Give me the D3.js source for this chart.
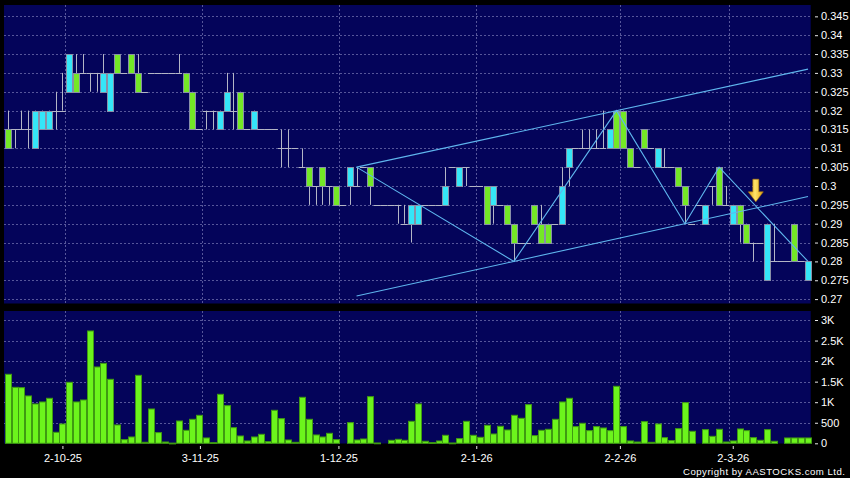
<!DOCTYPE html>
<html><head><meta charset="utf-8">
<script src="https://cdn.jsdelivr.net/npm/d3@7"></script>
<style>html,body{margin:0;padding:0;background:#000;} svg{display:block;}</style>
</head><body><svg id="c" width="850" height="478"></svg>
<script>
// ---- data (one entry per trading day, index 0..117) ----
const openP  = [0.315,0.315,0.315,0.315,0.31,0.315,0.315,0.32,0.32,0.325,
                0.33,0.33,0.33,0.33,0.325,0.32,0.335,0.33,0.335,0.33,
                0.325,0.33,0.33,0.33,0.33,0.33,0.33,0.325,0.315,0.32,
                0.32,0.315,0.32,0.32,0.325,0.315,0.315,0.315,0.315,0.315,
                0.31,0.31,0.31,0.305,0.305,0.3,0.305,0.3,0.3,0.295,
                0.3,0.3,0.305,0.305,0.295,0.295,0.295,0.295,0.29,0.29,
                0.29,0.295,0.295,0.295,0.295,0.305,0.3,0.305,0.3,0.3,
                0.3,0.295,0.295,0.295,0.29,0.285,0.285,0.295,0.29,0.29,
                0.29,0.29,0.305,0.31,0.31,0.31,0.31,0.31,0.31,0.32,
                0.32,0.31,0.305,0.315,0.31,0.305,0.305,0.305,0.305,0.3,
                0.29,0.295,0.29,0.3,0.305,0.295,0.29,0.295,0.29,0.285,
                0.285,0.275,0.28,0.28,0.28,0.29,0.28,0.275];
const highP  = [0.32,0.315,0.32,0.32,0.32,0.32,0.32,0.325,0.33,0.335,
                0.335,0.335,0.33,0.33,0.335,0.33,0.335,0.33,0.335,0.335,
                0.325,0.33,0.33,0.33,0.33,0.335,0.33,0.325,0.315,0.32,
                0.32,0.32,0.33,0.33,0.325,0.315,0.32,0.315,0.315,0.315,
                0.315,0.315,0.31,0.31,0.305,0.3,0.305,0.3,0.3,0.295,
                0.305,0.305,0.305,0.305,0.295,0.295,0.295,0.295,0.295,0.295,
                0.295,0.295,0.295,0.295,0.305,0.305,0.305,0.305,0.3,0.3,
                0.3,0.3,0.295,0.295,0.29,0.285,0.285,0.295,0.295,0.29,
                0.29,0.305,0.31,0.31,0.315,0.315,0.315,0.32,0.315,0.32,
                0.32,0.31,0.305,0.315,0.31,0.31,0.31,0.305,0.305,0.3,
                0.29,0.295,0.295,0.3,0.305,0.3,0.295,0.295,0.29,0.285,
                0.285,0.29,0.29,0.28,0.28,0.29,0.28,0.28];
const lowP   = [0.31,0.31,0.315,0.31,0.31,0.315,0.315,0.315,0.32,0.325,
                0.325,0.33,0.325,0.325,0.325,0.32,0.33,0.33,0.33,0.325,
                0.325,0.33,0.33,0.33,0.33,0.33,0.325,0.315,0.315,0.315,
                0.315,0.315,0.32,0.315,0.315,0.315,0.315,0.315,0.315,0.315,
                0.305,0.305,0.31,0.305,0.295,0.295,0.295,0.295,0.295,0.295,
                0.295,0.3,0.305,0.295,0.295,0.295,0.295,0.29,0.29,0.285,
                0.29,0.295,0.295,0.295,0.295,0.305,0.3,0.3,0.3,0.3,
                0.29,0.29,0.295,0.29,0.28,0.285,0.285,0.29,0.285,0.285,
                0.29,0.29,0.3,0.31,0.31,0.31,0.31,0.31,0.31,0.31,
                0.31,0.305,0.305,0.31,0.31,0.305,0.305,0.305,0.3,0.29,
                0.29,0.295,0.29,0.295,0.295,0.295,0.29,0.285,0.285,0.28,
                0.285,0.275,0.28,0.28,0.28,0.28,0.28,0.275];
const closeP = [0.31,0.315,0.315,0.315,0.32,0.32,0.32,0.32,0.32,0.335,
                0.325,0.33,0.33,0.33,0.33,0.33,0.33,0.33,0.33,0.325,
                0.325,0.33,0.33,0.33,0.33,0.33,0.325,0.315,0.315,0.32,
                0.32,0.32,0.325,0.32,0.315,0.315,0.32,0.315,0.315,0.315,
                0.31,0.31,0.31,0.305,0.3,0.3,0.3,0.3,0.295,0.295,
                0.305,0.3,0.305,0.3,0.295,0.295,0.295,0.295,0.29,0.295,
                0.295,0.295,0.295,0.295,0.3,0.305,0.305,0.305,0.3,0.3,
                0.29,0.3,0.295,0.29,0.285,0.285,0.285,0.29,0.285,0.285,
                0.29,0.3,0.31,0.31,0.31,0.31,0.31,0.31,0.315,0.31,
                0.31,0.305,0.305,0.31,0.31,0.31,0.305,0.305,0.3,0.295,
                0.29,0.295,0.295,0.3,0.295,0.295,0.295,0.29,0.285,0.285,
                0.285,0.29,0.28,0.28,0.28,0.28,0.28,0.28];
const volume = [1679,1362,1354,1152,957,1006,1095,268,470,1484,
                1006,1054,2733,1857,1946,1557,446,89,154,1654,
                25,835,260,32,5,543,316,584,681,130,
                15,1192,916,381,178,57,154,219,40,803,
                600,81,24,1119,584,203,154,243,89,0,
                503,81,105,1135,8,0,73,97,73,535,
                957,49,16,57,195,8,114,535,195,146,
                438,227,414,324,681,608,941,187,316,341,
                584,1006,1095,406,487,308,406,373,308,1387,
                406,57,32,527,24,470,138,65,357,990,
                292,0,333,170,341,32,57,349,308,138,
                73,333,49,0,130,130,130,130];

// x-axis labels (first trading day of each month) and their day positions
const dateLabels = ["2-10-25","3-11-25","1-12-25","2-1-26","2-2-26","2-3-26"];
const dateLabelPos = [8, 28.1, 48.35, 68.5, 89.5, 106];
const monthGridPos = [8.45, 28.45, 48.45, 68.45, 89.45, 105.45];
const priceTicks = [0.27,0.275,0.28,0.285,0.29,0.295,0.3,0.305,0.31,0.315,0.32,0.325,0.33,0.335,0.34,0.345];
const volTicks = [0,500,1000,1500,2000,2500,3000];
const volTickLabels = ["0","500","1K","1.5K","2K","2.5K","3K"];

// trend-line annotations: [day index, price]
const zigzag = [[51,0.305],[74,0.28],[89,0.32],[99,0.29],[104,0.305],[117,0.28]];
const upperChannel = [[51,0.305],[117,0.331]];
const lowerChannel = [[51,0.2708],[117,0.2972]];
const arrowMark = {at:109.37, from:0.3018, to:0.2958};

// ---- chart ----
const svg = d3.select("#c");
const W = 850, H = 478;
svg.append("rect").attr("width",W).attr("height",H).attr("fill","#000");

const px = {l:4, r:810.7};
const pricePanel = {t:5, b:303.5};
const volPanel = {t:311, b:443.5};

const x = d3.scaleLinear().domain([0,117]).range([7.7,808]);
const yP = d3.scaleLinear().domain([0.27,0.345]).range([299.1,16.35]);
const yV = d3.scaleLinear().domain([0,3000]).range([443.3,320]);

const NAVY = "#04045a";
const GRID = "#56569a";
const GREY = "#b4b6c6";
const CYAN = "#35e6f8";
const GREEN = "#74e826";

svg.append("rect").attr("x",px.l).attr("y",pricePanel.t).attr("width",px.r-px.l).attr("height",pricePanel.b-pricePanel.t).attr("fill",NAVY);
svg.append("rect").attr("x",px.l).attr("y",volPanel.t).attr("width",px.r-px.l).attr("height",volPanel.b-volPanel.t).attr("fill",NAVY);

const crisp = v => Math.round(v)+0.5;

// grids
const grid = svg.append("g").attr("stroke",GRID).attr("stroke-width",1).attr("stroke-dasharray","2,2");
priceTicks.forEach(t=>{
  grid.append("line").attr("x1",px.l).attr("x2",px.r).attr("y1",crisp(yP(t))).attr("y2",crisp(yP(t)));
});
volTicks.slice(1).forEach(t=>{
  grid.append("line").attr("x1",px.l).attr("x2",px.r).attr("y1",crisp(yV(t))).attr("y2",crisp(yV(t)));
});
monthGridPos.forEach(p=>{
  grid.append("line").attr("x1",crisp(x(p))).attr("x2",crisp(x(p))).attr("y1",pricePanel.t).attr("y2",pricePanel.b);
  grid.append("line").attr("x1",crisp(x(p))).attr("x2",crisp(x(p))).attr("y1",volPanel.t).attr("y2",volPanel.b);
});

// candles
const days = d3.range(openP.length).map(i=>({i,o:openP[i],h:highP[i],l:lowP[i],c:closeP[i],v:volume[i]}));
const cg = svg.append("g");
days.forEach(d=>{
  const cx = crisp(x(d.i));
  if (d.h > d.l) {
    cg.append("line").attr("x1",cx).attr("x2",cx).attr("y1",yP(d.h)).attr("y2",yP(d.l))
      .attr("stroke",GREY).attr("stroke-width",1);
  }
  if (d.o === d.c) {
    cg.append("line").attr("x1",x(d.i)-3.42).attr("x2",x(d.i)+3.42)
      .attr("y1",crisp(yP(d.o))).attr("y2",crisp(yP(d.o)))
      .attr("stroke",GREY).attr("stroke-width",1);
  } else {
    const top = yP(Math.max(d.o,d.c)), bot = yP(Math.min(d.o,d.c));
    cg.append("rect").attr("x",Math.round(x(d.i))-3+0.5).attr("y",Math.round(top)+0.5)
      .attr("width",6).attr("height",Math.round(bot)-Math.round(top))
      .attr("fill", d.c > d.o ? CYAN : GREEN)
      .attr("stroke","#8890a8").attr("stroke-width",1);
  }
});

// volume bars
const vg = svg.append("g");
days.forEach(d=>{
  if (d.v <= 0) return;
  const top = yV(d.v);
  vg.append("rect").attr("x",Math.round(x(d.i))-3+0.5).attr("y",top)
    .attr("width",6).attr("height",Math.max(0.8,yV(0)-top))
    .attr("fill","#6cf41c").attr("stroke","#3f9a12").attr("stroke-width",1);
});

// trend lines
const line = d3.line().x(p=>x(p[0])).y(p=>yP(p[1]));
const tl = svg.append("g").attr("fill","none").attr("stroke","#5fb6ee").attr("stroke-width",1.1);
tl.append("path").attr("d",line(upperChannel));
tl.append("path").attr("d",line(lowerChannel));
tl.append("path").attr("d",line(zigzag));

// arrow
const defs = svg.append("defs");
const gr = defs.append("linearGradient").attr("id","ag").attr("x1",0).attr("x2",1).attr("y1",0).attr("y2",0);
gr.append("stop").attr("offset","0%").attr("stop-color","#d99a10");
gr.append("stop").attr("offset","45%").attr("stop-color","#ffe46a");
gr.append("stop").attr("offset","100%").attr("stop-color","#e0a010");
{
  const ax = x(arrowMark.at), y0 = yP(arrowMark.from), y1 = yP(arrowMark.to);
  const hs = y1 - 10;
  const pts = [[ax-3,y0],[ax+3,y0],[ax+3,hs],[ax+7.5,hs],[ax,y1],[ax-7.5,hs],[ax-3,hs]];
  svg.append("path").attr("d","M"+pts.map(p=>p.join(",")).join("L")+"Z")
    .attr("fill","url(#ag)").attr("stroke","#b07a08").attr("stroke-width",0.6);
}

// axes
const FONT = "Liberation Sans, Arial, sans-serif";
const ra = svg.append("g").attr("transform","translate(815,0)")
  .call(d3.axisRight(yP).tickValues(priceTicks).tickSize(3).tickPadding(3)
        .tickFormat(d=>d3.format("~g")(+d.toFixed(3))));
const rv = svg.append("g").attr("transform","translate(815,0)")
  .call(d3.axisRight(yV).tickValues(volTicks).tickSize(3).tickPadding(3)
        .tickFormat((d,i)=>volTickLabels[i]));
const ba = svg.append("g").attr("transform","translate(0,446)")
  .call(d3.axisBottom(x).tickValues(dateLabelPos).tickSize(3).tickPadding(5)
        .tickFormat((d,i)=>dateLabels[i]));
[ra,rv,ba].forEach(g=>{
  g.select(".domain").remove();
  g.selectAll(".tick line").attr("stroke","#e8e8e8");
  g.selectAll(".tick text").attr("fill","#ffffff").style("font-family",FONT).style("font-size","11px");
});

svg.append("text").attr("x",845).attr("y",475).attr("text-anchor","end")
  .attr("fill","#ffffff").style("font-family",FONT).style("font-size","9.6px")
  .attr("textLength",162).attr("lengthAdjust","spacing")
  .text("Copyright by AASTOCKS.com Ltd.");
</script></body></html>
